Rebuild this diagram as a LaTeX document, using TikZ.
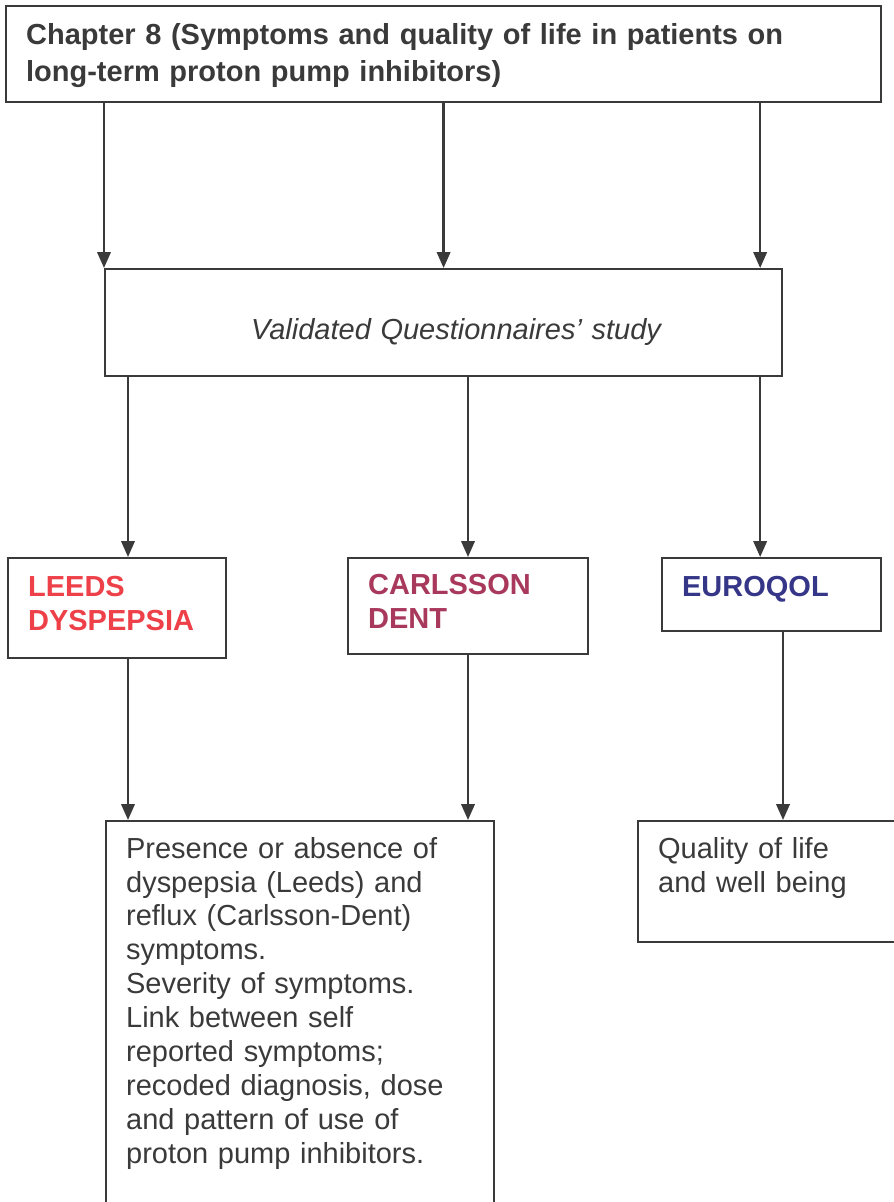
\documentclass[tikz,border=0pt]{standalone}
\usepackage{fontspec}
\setmainfont{Liberation Sans}
\usetikzlibrary{calc,arrows.meta}
\definecolor{leedsred}{RGB}{238,64,72}
\definecolor{dentrose}{RGB}{168,56,92}
\definecolor{euroblue}{RGB}{54,54,136}
\definecolor{inkgrey}{RGB}{58,58,58}
\tikzset{
	box/.style={draw=inkgrey, line width=1.3pt, anchor=north west, inner xsep=0.4cm, inner ysep=0pt, align=left, text=inkgrey, font=\fontsize{16.5}{19.3}\selectfont},
	arr/.style={draw=inkgrey, line width=1.3pt, -{Triangle[length=0.32cm, width=0.27cm]}}
}

\begin{document}
\begin{tikzpicture}[x=0.02cm, y=-0.02cm]
			%%%%% START %%%%%
			\useasboundingbox (0, 0) rectangle (893, 1202);
			
			\node[box, text width=16.7cm, text height=0.77cm, text depth=1.15cm, font=\fontsize{16.5}{21}\selectfont\bfseries] (chapter) at (5, 5)
				{Chapter 8 (Symptoms and quality of life in patients on\\long-term proton pump inhibitors)};
			
			\node[box, text width=12.74cm, text height=1.4cm, text depth=0.74cm] (study) at (104, 268)
				{\hspace*{2.52cm}\itshape Validated Questionnaires' study};
			
			\node[box, text width=3.56cm, text height=0.77cm, text depth=1.23cm, text=leedsred, font=\fontsize{16.5}{19.3}\selectfont\bfseries] (leeds) at (7, 557)
				{LEEDS\\DYSPEPSIA};
			\node[box, text width=4.0cm, text height=0.73cm, text depth=1.19cm, text=dentrose, font=\fontsize{16.5}{19.3}\selectfont\bfseries] (dent) at (347, 557)
				{CARLSSON\\DENT};
			\node[box, text width=3.58cm, text height=0.77cm, text depth=0.69cm, text=euroblue, font=\fontsize{16.5}{19.3}\selectfont\bfseries] (euro) at (661, 557)
				{EUROQOL};
			
			\node[box, text width=6.96cm, text height=0.74cm, text depth=8.06cm] (symptoms) at (105, 820)
				{Presence or absence of\\dyspepsia (Leeds) and\\reflux (Carlsson-Dent)\\symptoms.\\Severity of symptoms.\\Link between self\\reported symptoms;\\recoded diagnosis, dose\\and pattern of use of\\proton pump inhibitors.};
			\node[box, text width=4.46cm, text height=0.74cm, text depth=1.68cm] (qol) at (637, 820)
				{Quality of life\\and well being};
			
			% chapter -> study
			\coordinate (c3) at ($(study.north east)+(-23, 0)$);
			\draw[arr] (chapter.south -| study.north west) -- (study.north west);
			\draw[arr] (chapter.south -| study.north) -- (study.north);
			\draw[arr] (c3 |- chapter.south) -- (c3);
			
			% study -> questionnaires
			\coordinate (d1) at ($(study.south west)+(24, 0)$);
			\coordinate (d2) at ($(study.south west)+(364, 0)$);
			\draw[arr] (d1) -- (d1 |- leeds.north);
			\draw[arr] (d2) -- (d2 |- dent.north);
			\draw[arr] (c3 |- study.south) -- (c3 |- euro.north);
			
			% questionnaires -> outcomes
			\coordinate (e1) at ($(euro.south west)+(122, 0)$);
			\draw[arr] (d1 |- leeds.south) -- (d1 |- symptoms.north);
			\draw[arr] (d2 |- dent.south) -- (d2 |- symptoms.north);
			\draw[arr] (e1) -- (e1 |- qol.north);
			
			%%%%% END %%%%%
		\end{tikzpicture}
\end{document}
